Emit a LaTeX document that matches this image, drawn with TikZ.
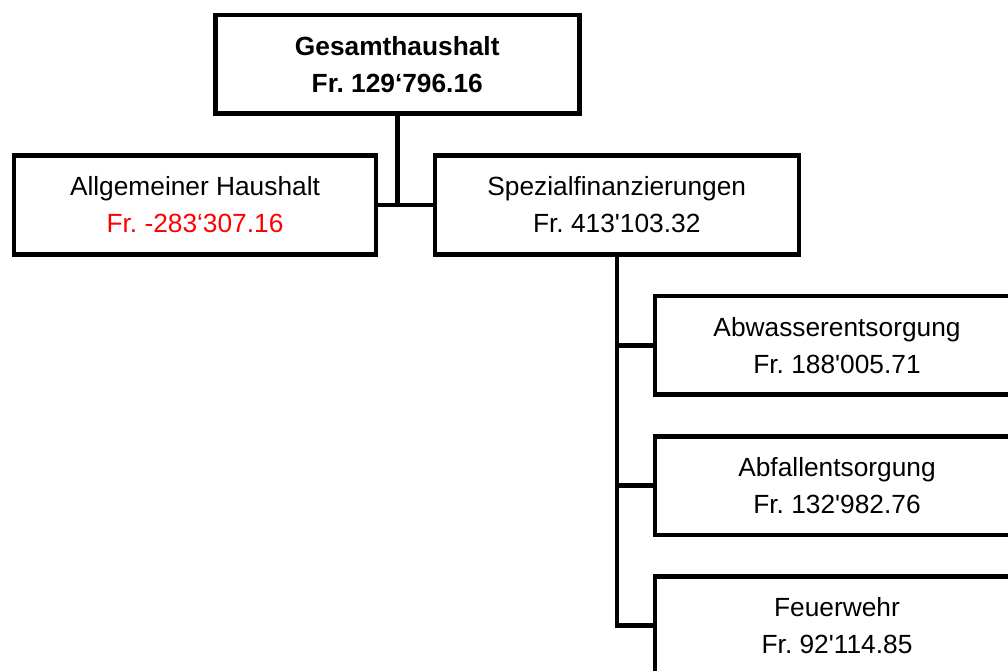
\documentclass[tikz,border=0pt]{standalone}
\usepackage{fontspec}
\setmainfont{Liberation Sans}
\frenchspacing
\begin{document}
\begin{tikzpicture}[x=1pt,y=-1pt,
  box/.style={draw=black, line width=4.5pt, fill=white, minimum width=364pt, minimum height=98.5pt,
    inner sep=0pt, align=center, font=\fontsize{26.3}{37}\selectfont},
  conn/.style={draw=black, line width=4.5pt, line cap=rect}]
\useasboundingbox (0,0) rectangle (1008,671);
\clip (0,0) rectangle (1008,671);
\node[box] (top) at (397.25,64.25) {\bfseries Gesamthaushalt\\\bfseries Fr. 129‘796.16};
\node[box, minimum width=362pt, minimum height=99pt] (left) at (195,205) {Allgemeiner Haushalt\\\textcolor{red}{Fr. -283‘307.16}};
\node[box, minimum height=99pt] (spez) at (616.75,205) {Spezialfinanzierungen\\Fr. 413\textquotesingle 103.32};
\node[box] (a) at (837,345.25) {Abwasserentsorgung\\Fr. 188\textquotesingle 005.71};
\node[box] (b) at (837,485.5) {Abfallentsorgung\\Fr. 132\textquotesingle 982.76};
\node[box] (c) at (837,625.5) {Feuerwehr\\Fr. 92\textquotesingle 114.85};
\draw[conn] (top.south) -- (top.south |- left.east);
\draw[conn] (left.east) -- (spez.west);
\draw[conn] (spez.south) -- (spez.south |- c.west);
\draw[conn] (spez.south |- a.west) -- (a.west);
\draw[conn] (spez.south |- b.west) -- (b.west);
\draw[conn] (spez.south |- c.west) -- (c.west);
\end{tikzpicture}
\end{document}
